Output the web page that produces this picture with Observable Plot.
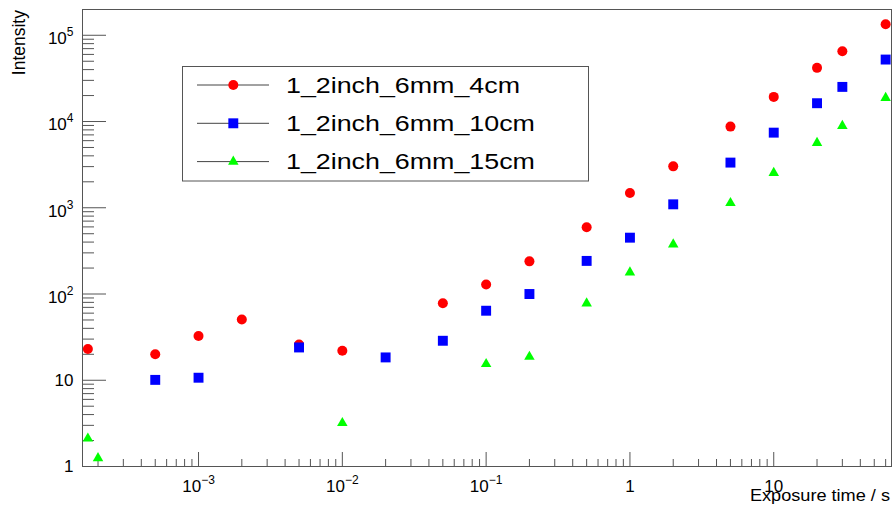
<!DOCTYPE html>
<html><head><meta charset="utf-8">
<script src="https://cdn.jsdelivr.net/npm/d3@7"></script>
<script src="https://cdn.jsdelivr.net/npm/@observablehq/plot@0.6"></script>
<style>
html,body{margin:0;padding:0;background:#fff;}
#chart{width:893px;height:506px;}
svg{display:block;}
</style></head><body><div id="chart"></div>
<script>
// ---- data ----
const seriesNames = ["1_2inch_6mm_4cm", "1_2inch_6mm_10cm", "1_2inch_6mm_15cm"];
const seriesColors = ["#ff0000", "#0000ff", "#00ff00"];
const seriesSymbols = ["circle", "square", "triangle"];

const xRed = [1.7e-4, 5e-4, 1e-3, 2e-3, 5e-3, 1e-2, 5e-2, 0.1, 0.2, 0.5, 1, 2, 5, 10, 20, 30, 60];
const yRed = [23, 20, 32.6, 50.7, 26, 22, 78, 129, 239, 593, 1485, 3020, 8730, 19300, 41900, 65200, 134000];

const xBlue = [5e-4, 1e-3, 5e-3, 2e-2, 5e-2, 0.1, 0.2, 0.5, 1, 2, 5, 10, 20, 30, 60];
const yBlue = [10.1, 10.7, 24, 18.4, 28.7, 64, 100, 242, 450, 1096, 3340, 7430, 16300, 25200, 52300];

const xGreen = [1.7e-4, 2e-4, 1e-2, 0.1, 0.2, 0.5, 1, 2, 5, 10, 20, 30, 60];
const yGreen = [2.11, 1.25, 3.19, 15.4, 18.7, 77.8, 178, 376, 1137, 2535, 5650, 8890, 18800];

const xMajorTicks = [1e-3, 1e-2, 1e-1, 1, 10];
const xTickLabels = ["10^−3", "10^−2", "10^−1", "1", "10"];
const yMajorTicks = [1, 10, 100, 1e3, 1e4, 1e5];
const yTickLabels = ["1", "10", "10^2", "10^3", "10^4", "10^5"];
const xTitle = "Exposure time / s";
const yTitle = "Intensity";

// ---- layout ----
const W = 893, H = 506, mL = 82, mR = 2, mT = 9, mB = 40;
const fw = W - mL - mR, fh = H - mT - mB;
const xDomain = [1.56e-4, 65.9];
const yDomain = [1, 1.99e5];
const axisColor = "#555";

function minorTicks(dom, n0, n1) {
  const out = [];
  for (let n = n0; n <= n1; n++) for (let k = 2; k <= 9; k++) {
    const v = Number((k * Math.pow(10, n)).toPrecision(3));
    if (v > dom[0] && v < dom[1]) out.push(v);
  }
  return out;
}
const xMinorTicks = minorTicks(xDomain, -4, 1);
const yMinorTicks = minorTicks(yDomain, 0, 5);

const rows = (xs, ys) => xs.map((x, i) => ({x, y: ys[i]}));
const series = [rows(xRed, yRed), rows(xBlue, yBlue), rows(xGreen, yGreen)];
const symbolR = {circle: 5, square: 5.6, triangle: 3.9};

const plot = Plot.plot({
  width: W, height: H,
  marginLeft: mL, marginRight: mR, marginTop: mT, marginBottom: mB,
  style: {fontFamily: "'Liberation Sans', Arial, sans-serif", background: "#fff", color: "#000"},
  x: {type: "log", domain: xDomain},
  y: {type: "log", domain: yDomain},
  marks: [
    Plot.ruleX(xMinorTicks, {stroke: axisColor, insetTop: fh - 7}),
    Plot.ruleX(xMajorTicks, {stroke: axisColor, insetTop: fh - 14}),
    Plot.ruleY(yMinorTicks, {stroke: axisColor, insetRight: fw - 12}),
    Plot.ruleY(yMajorTicks, {stroke: axisColor, insetRight: fw - 24}),
    Plot.frame({stroke: axisColor}),
    Plot.axisX(xMajorTicks, {tickSize: 0, tickPadding: 13, fontSize: 17, label: null,
      tickFormat: d => xTickLabels[xMajorTicks.indexOf(d)]}),
    Plot.axisY(yMajorTicks, {tickSize: 0, tickPadding: 9, fontSize: 17, label: null,
      tickFormat: d => yTickLabels[yMajorTicks.indexOf(d)]}),
    ...series.map((data, i) => Plot.dot(data, {
      x: "x", y: "y", symbol: seriesSymbols[i], r: symbolR[seriesSymbols[i]],
      fill: seriesColors[i], stroke: "none"
    }))
  ]
});
document.getElementById("chart").appendChild(plot);

// superscript exponents on tick labels
const svg = d3.select(plot);
svg.selectAll("text").each(function () {
  const t = this.textContent;
  const m = /^10\^(.+)$/.exec(t);
  if (!m) return;
  const g = this.closest("g[aria-label]");
  const isY = g && /y-axis/.test(g.getAttribute("aria-label"));
  this.textContent = "";
  const ns = "http://www.w3.org/2000/svg";
  const base = document.createElementNS(ns, "tspan");
  base.textContent = "10";
  if (isY) base.setAttribute("dy", "3.5");
  const sup = document.createElementNS(ns, "tspan");
  sup.textContent = m[1];
  sup.setAttribute("dy", "-8");
  sup.setAttribute("font-size", "12");
  this.appendChild(base);
  this.appendChild(sup);
});

// axis titles
const font = "'Liberation Sans', Arial, sans-serif";
svg.append("text")
  .attr("transform", "translate(25,10) rotate(-90)")
  .attr("text-anchor", "end").attr("font-family", font).attr("font-size", 17.5)
  .attr("fill", "#000").text(yTitle);
svg.append("text")
  .attr("transform", "translate(890,501) scale(1.1,1)")
  .attr("text-anchor", "end").attr("font-family", font).attr("font-size", 16.5)
  .attr("fill", "#000").text(xTitle);

// legend
const lg = svg.append("g").attr("text-anchor", "start");
lg.append("rect").attr("x", 182.5).attr("y", 66.5).attr("width", 406).attr("height", 114.5)
  .attr("fill", "#fff").attr("stroke", axisColor);
const symMap = {circle: d3.symbolCircle, square: d3.symbolSquare, triangle: d3.symbolTriangle};
seriesNames.forEach((name, i) => {
  const cy = 85 + i * 38.3;
  lg.append("line").attr("x1", 197).attr("x2", 269).attr("y1", cy).attr("y2", cy)
    .attr("stroke", "#444").attr("stroke-width", 1);
  const r = symbolR[seriesSymbols[i]];
  lg.append("path").attr("transform", `translate(233.3,${cy})`)
    .attr("d", d3.symbol(symMap[seriesSymbols[i]], Math.PI * r * r)())
    .attr("fill", seriesColors[i]);
  lg.append("text").attr("transform", `translate(286,${cy + 7.5}) scale(1.22,1)`)
    .attr("text-anchor", "start")
    .attr("font-family", font).attr("font-size", 22).attr("fill", "#000").text(name);
});
</script>
</body></html>
